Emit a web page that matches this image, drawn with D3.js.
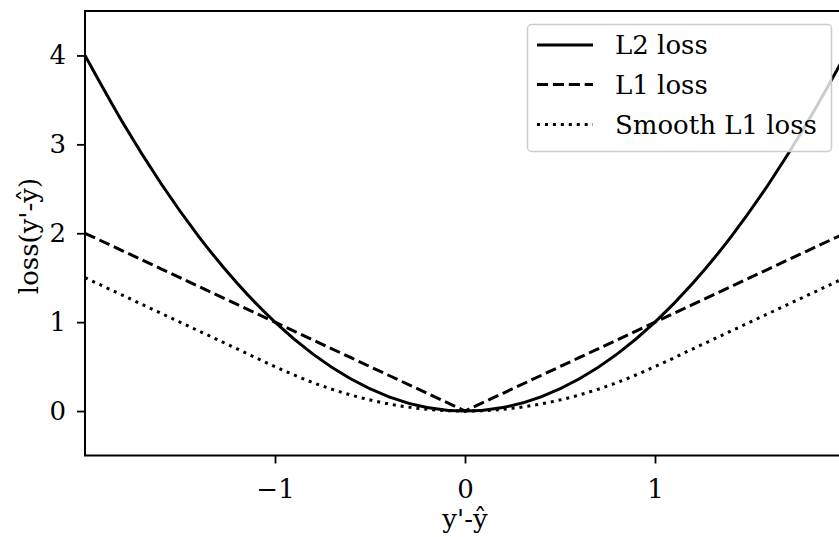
<!DOCTYPE html>
<html><head><meta charset="utf-8">
<script src="https://cdn.jsdelivr.net/npm/d3@7"></script>
<style>html,body{margin:0;padding:0;background:#fff;overflow:hidden}</style>
</head><body>
<script>
const xs = [-2,-1.8,-1.6,-1.4,-1.2,-1,-0.8,-0.6,-0.4,-0.2,0,0.2,0.4,0.6,0.8,1,1.2,1.4,1.6,1.8,2];
const l2Loss = [4,3.24,2.56,1.96,1.44,1,0.64,0.36,0.16,0.04,0,0.04,0.16,0.36,0.64,1,1.44,1.96,2.56,3.24,4];
const l1Loss = [2,1.8,1.6,1.4,1.2,1,0.8,0.6,0.4,0.2,0,0.2,0.4,0.6,0.8,1,1.2,1.4,1.6,1.8,2];
const smoothL1Loss = [1.5,1.3,1.1,0.9,0.7,0.5,0.32,0.18,0.08,0.02,0,0.02,0.08,0.18,0.32,0.5,0.7,0.9,1.1,1.3,1.5];
const xTicks = [-1,0,1];
const yTicks = [0,1,2,3,4];
const seriesNames = ["L2 loss","L1 loss","Smooth L1 loss"];

const W = 839, H = 537;
const pL = 85, pR = 845, pT = 11, pB = 455.5;
const font = "'DejaVu Serif', serif";
const fs = 26;
const lw = 3;

const svg = d3.select("body").append("svg").attr("width", W).attr("height", H);
const x = d3.scaleLinear().domain([-2, 2]).range([pL, pR]);
const y = d3.scaleLinear().domain([-0.5, 4.5]).range([pB, pT]);

svg.append("defs").append("clipPath").attr("id","clip")
  .append("rect").attr("x", pL).attr("y", pT).attr("width", pR-pL).attr("height", pB-pT);

const styles = [
  {dash: null, curve: d3.curveMonotoneX, vals: l2Loss},
  {dash: "11.1,4.8", curve: d3.curveLinear, vals: l1Loss},
  {dash: "3,4.95", curve: d3.curveMonotoneX, vals: smoothL1Loss}
];

const g = svg.append("g").attr("clip-path","url(#clip)");
styles.forEach(s => {
  const line = d3.line().x((d,i)=>x(xs[i])).y(d=>y(d)).curve(s.curve);
  g.append("path").attr("d", line(s.vals)).attr("fill","none")
    .attr("stroke","#000").attr("stroke-width", lw)
    .attr("stroke-dasharray", s.dash);
});

// axes
const xAxis = d3.axisBottom(x).tickValues(xTicks).tickSize(8).tickPadding(16)
  .tickFormat(d => d < 0 ? "\u2212" + Math.abs(d) : String(d));
const xa = svg.append("g").attr("transform", `translate(0,${pB})`).call(xAxis);
const yAxis = d3.axisLeft(y).tickValues(yTicks).tickSize(8).tickPadding(11).tickFormat(d3.format("d"));
const ya = svg.append("g").attr("transform", `translate(${pL},0)`).call(yAxis);
[xa, ya].forEach(a => {
  a.select(".domain").remove();
  a.selectAll(".tick line").attr("stroke","#000").attr("stroke-width",1.8);
  a.selectAll(".tick text").attr("font-family", font).attr("font-size", fs).attr("fill","#000");
});

// frame
svg.append("rect").attr("x", pL).attr("y", pT).attr("width", pR-pL).attr("height", pB-pT)
  .attr("fill","none").attr("stroke","#000").attr("stroke-width",2);

// axis labels
svg.append("text").attr("x", 465).attr("y", 528).attr("text-anchor","middle")
  .attr("font-family", font).attr("font-size", fs).text("y'-\u0177");
svg.append("text").attr("transform", `translate(38,236) rotate(-90)`).attr("text-anchor","middle")
  .attr("font-family", font).attr("font-size", fs).text("loss(y'-\u0177)");

// legend
const lg = svg.append("g");
lg.append("rect").attr("x",527.5).attr("y",24.5).attr("width",304).attr("height",127).attr("rx",4)
  .attr("fill","#fff").attr("fill-opacity",0.8).attr("stroke","#ccc").attr("stroke-width",1.5);
const rowsY = [45, 84.5, 124.5];
styles.forEach((s,i) => {
  lg.append("line").attr("x1",537).attr("x2",593).attr("y1",rowsY[i]).attr("y2",rowsY[i])
    .attr("stroke","#000").attr("stroke-width",lw).attr("stroke-dasharray", s.dash);
  lg.append("text").attr("x",615).attr("y",rowsY[i]).attr("dy","0.35em")
    .attr("font-family", font).attr("font-size", fs).text(seriesNames[i]);
});
</script>
</body></html>
